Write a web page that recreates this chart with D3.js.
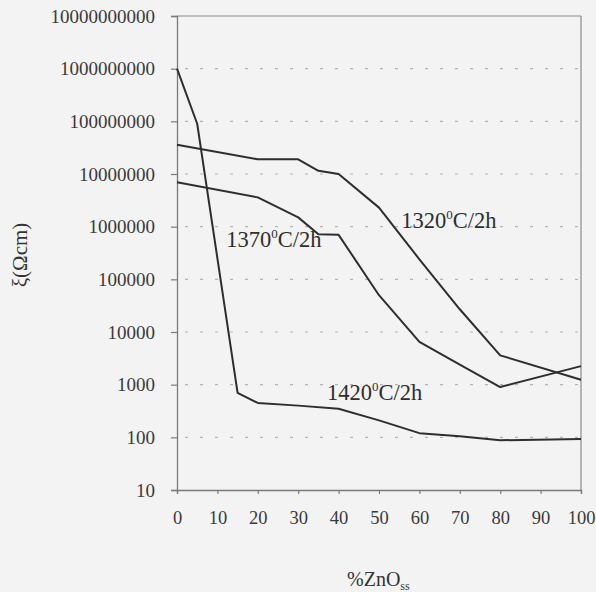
<!DOCTYPE html>
<html><head><meta charset="utf-8">
<script src="https://cdn.jsdelivr.net/npm/d3@7"></script>
<style>body{margin:0;background:#f3f3f3;}svg{display:block;}text{font-family:"Liberation Serif","DejaVu Serif",serif;}</style>
</head><body>
<script>
const xTicks = [0,10,20,30,40,50,60,70,80,90,100];
const yTicks = [10,100,1000,10000,100000,1000000,10000000,100000000,1000000000,10000000000];
const gridTicks = [100,1000,10000,100000,1000000,10000000,100000000,1000000000];
const seriesNames = ["1420", "1370", "1320"];
const x1420 = [0,5,15,20,30,40,50,60,70,80,100];
const y1420 = [1e9,9e7,700,450,400,350,210,120,105,88,93];
const x1370 = [0,20,30,35,40,50,60,70,80,100];
const y1370 = [7e6,3.6e6,1.5e6,7.2e5,7e5,5e4,6500,2400,900,2250];
const x1320 = [0,20,30,35,40,50,60,70,80,100];
const y1320 = [3.6e7,1.9e7,1.9e7,1.15e7,1.0e7,2.3e6,2.4e5,2.7e4,3600,1240];
const labelPos = {"1420":[37.1,515], "1370":[12.2,4.1e5], "1320":[55.5,9.4e5]};

const W=596,H=592;
const L=177,R=581,T=16,B=490;
const svg=d3.select("body").append("svg").attr("width",W).attr("height",H);
svg.append("rect").attr("width",W).attr("height",H).attr("fill","#f3f3f3");
const x=d3.scaleLinear().domain([0,100]).range([L,R]);
const y=d3.scaleLog().domain([10,1e10]).range([B,T]);
const font="Liberation Serif, DejaVu Serif, serif";

// grid
svg.append("g").selectAll("line").data(gridTicks).join("line")
  .attr("x1",L+8).attr("x2",R-2).attr("y1",d=>y(d)).attr("y2",d=>y(d))
  .attr("stroke","#b4b4b4").attr("stroke-width",1.2).attr("stroke-dasharray","3,12");

// frame top/right
svg.append("line").attr("x1",L).attr("x2",R).attr("y1",T).attr("y2",T).attr("stroke","#8a8a8a").attr("stroke-width",1.2);
svg.append("line").attr("x1",R).attr("x2",R).attr("y1",T).attr("y2",B).attr("stroke","#8a8a8a").attr("stroke-width",1.2);

// axes
const yAxis=d3.axisLeft(y).tickValues(yTicks).tickSize(6).tickPadding(16).tickFormat(d=>String(d));
const gy=svg.append("g").attr("transform",`translate(${L},0)`).call(yAxis);
const xAxis=d3.axisBottom(x).tickValues(xTicks).tickSize(4).tickPadding(17).tickFormat(d=>String(d));
const gx=svg.append("g").attr("transform",`translate(0,${B})`).call(xAxis);
[gx,gy].forEach(g=>{
  g.attr("font-family",font);
  g.select(".domain").attr("stroke","#7a7a7a").attr("stroke-width",1.3);
  g.selectAll(".tick line").attr("stroke","#7a7a7a").attr("stroke-width",1.2);
  g.selectAll("text").attr("font-family",font).attr("font-size",18.5).attr("fill","#3a3a3a");
});
gy.selectAll("text").attr("font-size",19);

// lines
const line=d3.line().x(d=>x(d[0])).y(d=>y(d[1]));
const data=[d3.zip(x1420,y1420),d3.zip(x1370,y1370),d3.zip(x1320,y1320)];
svg.append("g").selectAll("path").data(data).join("path")
  .attr("d",line).attr("fill","none").attr("stroke","#2e2e2e").attr("stroke-width",2).attr("stroke-linejoin","round");

// labels
seriesNames.forEach(n=>{
  const p=labelPos[n];
  const t=svg.append("text").attr("x",x(p[0])).attr("y",y(p[1]))
    .attr("font-family",font).attr("font-size",22.5).attr("fill","#2e2e2e");
  t.append("tspan").text(n);
  t.append("tspan").attr("dy",-9).attr("font-size",13).text("0");
  t.append("tspan").attr("dy",9).text("C/2h");
});

// axis titles
svg.append("text").attr("transform","translate(27,255) rotate(-90)").attr("text-anchor","middle")
  .attr("font-family",font).attr("font-size",21).attr("fill","#333").text("ξ(Ωcm)");
const xt=svg.append("text").attr("x",347).attr("y",586).attr("font-family",font).attr("font-size",20).attr("fill","#333");
xt.append("tspan").text("%ZnO");
xt.append("tspan").attr("dy",4).attr("font-size",12).text("ss");
</script>
</body></html>
